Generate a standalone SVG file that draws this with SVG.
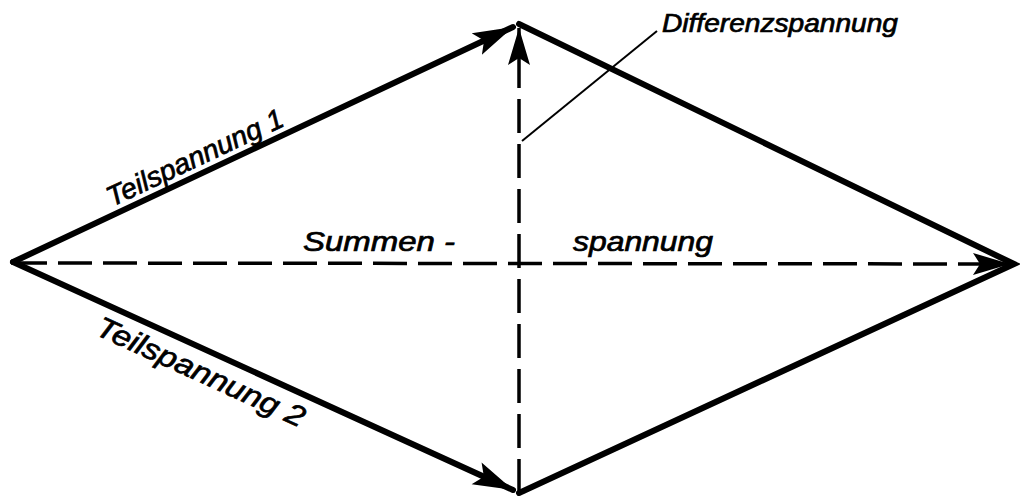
<svg xmlns="http://www.w3.org/2000/svg" width="1020" height="498" viewBox="0 0 1020 498">
<style>
.edge{fill:none;stroke:#000;stroke-width:6;stroke-linejoin:miter;stroke-linecap:round}
.dash{fill:none;stroke:#000;stroke-width:3.5;stroke-dasharray:34 11}
.lead{fill:none;stroke:#000;stroke-width:2}
.lbl{font-family:"Liberation Sans","DejaVu Sans",sans-serif;font-style:italic;fill:#000;stroke:#000;stroke-width:0.7}
</style>
<defs>
<marker id="ah" markerUnits="userSpaceOnUse" markerWidth="46" markerHeight="32" viewBox="-44 -16 46 32" refX="0" refY="0" orient="auto">
<path d="M0,0 L-40,-12 L-32,0 L-40,12 Z" fill="#000"/>
</marker>
<marker id="ahd" markerUnits="userSpaceOnUse" markerWidth="44" markerHeight="30" viewBox="-42 -15 44 30" refX="0" refY="0" orient="auto">
<path d="M0,0 L-37,-11 L-30,0 L-37,11 Z" fill="#000"/>
</marker>
</defs>
<rect width="1020" height="498" fill="#fff"/>
<g id="connectors">
<line id="teil1" class="edge" x1="13" y1="262" x2="513" y2="27" marker-end="url(#ah)"/>
<line id="teil2" class="edge" x1="13" y1="262" x2="513" y2="490" marker-end="url(#ah)"/>
<polyline id="right-edges" class="edge" points="519,24 1014,264 519,493"/>
<line id="summe" class="dash" x1="13" y1="263" x2="1010" y2="264" marker-end="url(#ahd)"/>
<line id="differenz" class="dash" x1="519" y1="493" x2="519" y2="28" marker-end="url(#ahd)"/>
<line id="leader" class="lead" x1="522" y1="141" x2="657" y2="31"/>
</g>
<g id="label-teil1">
<text class="lbl" font-size="28" transform="translate(112,207) rotate(-25.2)" textLength="192" lengthAdjust="spacingAndGlyphs">Teilspannung 1</text>
</g>
<g id="label-teil2">
<text class="lbl" font-size="29" transform="translate(94,334) rotate(24.5)" textLength="226" lengthAdjust="spacingAndGlyphs">Teilspannung 2</text>
</g>
<g id="label-summe">
<text class="lbl" font-size="27" x="303" y="251" textLength="152" lengthAdjust="spacingAndGlyphs">Summen -</text>
<text class="lbl" font-size="27" x="573" y="251" textLength="140" lengthAdjust="spacingAndGlyphs">spannung</text>
</g>
<g id="label-differenz">
<text class="lbl" font-size="25" x="662" y="32" textLength="236" lengthAdjust="spacingAndGlyphs">Differenzspannung</text>
</g>
</svg>
